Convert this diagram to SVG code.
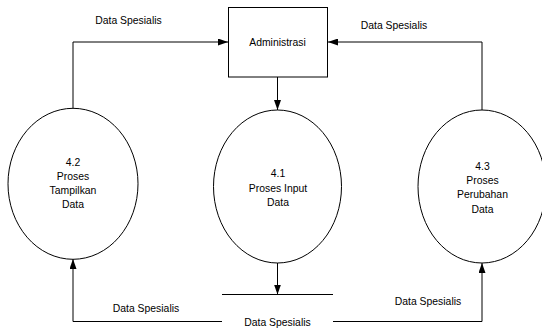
<svg xmlns="http://www.w3.org/2000/svg" width="542" height="331" viewBox="0 0 542 331">
  <defs>
    <marker id="arrow" markerUnits="userSpaceOnUse" markerWidth="10" markerHeight="7" refX="10" refY="3.5" orient="auto">
      <path d="M0,0 L10,3.5 L0,7 z" fill="#000"/>
    </marker>
    <style>
      .shape { fill: #fff; stroke: #000; stroke-width: 1; }
      .flow { fill: none; stroke: #000; stroke-width: 1; marker-end: url(#arrow); }
      .plain { fill: none; stroke: #000; stroke-width: 1; }
      text { font-family: "Liberation Sans", Arial, sans-serif; font-size: 10.4px; fill: #000; text-anchor: middle; }
    </style>
  </defs>
  <rect width="542" height="331" fill="#fff"/>

  <!-- connectors -->
  <g id="connectors">
    <path class="flow" d="M73,108.5 V42 H228"/>
    <path class="flow" d="M482,110 V42 H328"/>
    <path class="flow" d="M277.5,77 V110"/>
    <path class="flow" d="M277.5,263 V294.5"/>
    <path class="flow" d="M222,321.5 H73 V259"/>
    <path class="flow" d="M333,321.5 H482 V263"/>
    <text x="128.5" y="24">Data Spesialis</text>
    <text x="394" y="28.5">Data Spesialis</text>
    <text x="146" y="312">Data Spesialis</text>
    <text x="428" y="305">Data Spesialis</text>
  </g>

  <!-- external entity -->
  <g id="administrasi">
    <rect class="shape" x="228.5" y="7.5" width="99" height="69.5"/>
    <text x="277.5" y="45.7">Administrasi</text>
  </g>

  <!-- processes -->
  <g id="proses-4-2">
    <ellipse class="shape" cx="73" cy="183.8" rx="65" ry="75.5"/>
    <text x="73" y="165.7">4.2</text>
    <text x="73" y="179.7">Proses</text>
    <text x="73" y="193.7">Tampilkan</text>
    <text x="73" y="207.5">Data</text>
  </g>

  <g id="proses-4-1">
    <ellipse class="shape" cx="277.5" cy="186.5" rx="64" ry="76.5"/>
    <text x="278" y="177.3">4.1</text>
    <text x="278" y="191.5">Proses Input</text>
    <text x="278" y="205.5">Data</text>
  </g>

  <g id="proses-4-3">
    <ellipse class="shape" cx="482" cy="186.5" rx="64" ry="76.5"/>
    <text x="482.5" y="170">4.3</text>
    <text x="482.5" y="184">Proses</text>
    <text x="482.5" y="198">Perubahan</text>
    <text x="482.5" y="212.5">Data</text>
  </g>

  <!-- data store -->
  <g id="data-spesialis">
    <path class="plain" d="M222,294.5 H333"/>
    <text x="277.5" y="325.5">Data Spesialis</text>
  </g>
</svg>
